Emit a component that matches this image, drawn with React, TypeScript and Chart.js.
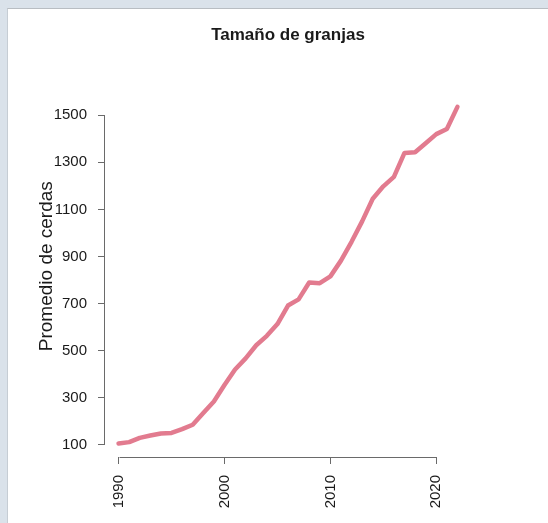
import { useEffect, useRef } from "react";
import { Chart, registerables } from "chart.js";

Chart.register(...registerables);

const years = [
  1990, 1991, 1992, 1993, 1994, 1995, 1996, 1997, 1998, 1999, 2000, 2001, 2002,
  2003, 2004, 2005, 2006, 2007, 2008, 2009, 2010, 2011, 2012, 2013, 2014, 2015,
  2016, 2017, 2018, 2019, 2020, 2021, 2022,
];
const sows = [
  104, 110, 128, 138, 147, 149, 165, 184, 234, 283, 353, 419, 466, 522, 562,
  612, 691, 717, 789, 786, 815, 882, 962, 1049, 1145, 1198, 1238, 1340, 1343,
  1381, 1420, 1442, 1536,
];
const xTicks = [1990, 2000, 2010, 2020];
const yTicks = [100, 300, 500, 700, 900, 1100, 1300, 1500];
const titleText = "Tamaño de granjas";
const yLabel = "Promedio de cerdas";

const FONT = "'Liberation Sans', Arial, Helvetica, sans-serif";
const AXIS = "#6a6a6a";
const TEXT = "#1a1a1a";
const LINE = "#e27b8f";

const pad = (arr: number[]) => {
  const mn = Math.min(...arr);
  const mx = Math.max(...arr);
  const p = (mx - mn) * 0.04;
  return [mn - p, mx + p];
};

const rAxisLines = {
  id: "rAxisLines",
  afterDraw(chart: any) {
    const { ctx, scales } = chart;
    const x = scales.x;
    const y = scales.y;
    ctx.save();
    ctx.strokeStyle = AXIS;
    ctx.lineWidth = 1;
    ctx.beginPath();
    const yy = Math.round(x.top) + 0.5;
    ctx.moveTo(Math.round(x.getPixelForValue(xTicks[0])) + 0.5, yy);
    ctx.lineTo(Math.round(x.getPixelForValue(xTicks[xTicks.length - 1])) + 0.5, yy);
    const xx = Math.round(y.right) - 0.5;
    ctx.moveTo(xx, Math.round(y.getPixelForValue(yTicks[0])) + 0.5);
    ctx.lineTo(xx, Math.round(y.getPixelForValue(yTicks[yTicks.length - 1])) + 0.5);
    ctx.stroke();
    // y-axis label (R-style ylab)
    ctx.fillStyle = TEXT;
    ctx.font = `19px ${FONT}`;
    ctx.translate(52, (y.top + y.bottom) / 2 - 9);
    ctx.rotate(-Math.PI / 2);
    ctx.textAlign = "center";
    ctx.textBaseline = "alphabetic";
    ctx.fillText(yLabel, 0, 0);
    ctx.restore();
  },
};

export default function App() {
  const ref = useRef<HTMLCanvasElement | null>(null);

  useEffect(() => {
    if (!ref.current) return;
    const [xmin, xmax] = pad(years);
    const [ymin, ymax] = pad(sows);
    const chart = new Chart(ref.current, {
      type: "line",
      data: {
        datasets: [
          {
            data: years.map((yr, i) => ({ x: yr, y: sows[i] })),
            borderColor: LINE,
            borderWidth: 4.5,
            pointRadius: 0,
            tension: 0,
            borderCapStyle: "round",
            borderJoinStyle: "round",
            fill: false,
          },
        ],
      },
      options: {
        responsive: false,
        animation: false,
        events: [],
        layout: { padding: { left: 0, right: 77, top: 0, bottom: 0 } },
        plugins: {
          legend: { display: false },
          tooltip: { enabled: false },
          title: {
            display: true,
            text: titleText,
            fullSize: false,
            color: TEXT,
            font: { family: FONT, size: 17, weight: "bold", lineHeight: 1.2 },
            padding: { top: 25, bottom: 48 },
          },
        },
        scales: {
          x: {
            type: "linear",
            min: xmin,
            max: xmax,
            afterFit: (s: any) => {
              s.height = 66;
            },
            afterBuildTicks: (s: any) => {
              s.ticks = xTicks.map((v) => ({ value: v }));
            },
            border: { display: false },
            grid: {
              display: true,
              drawOnChartArea: false,
              drawTicks: true,
              tickLength: 7,
              color: AXIS,
              lineWidth: 1,
            },
            ticks: {
              color: TEXT,
              font: { family: FONT, size: 15 },
              minRotation: 90,
              maxRotation: 90,
              padding: 11,
              autoSkip: false,
              callback: (v: any) => String(v),
            },
          },
          y: {
            type: "linear",
            min: ymin,
            max: ymax,
            afterFit: (s: any) => {
              s.width = 105;
            },
            afterBuildTicks: (s: any) => {
              s.ticks = yTicks.map((v) => ({ value: v }));
            },
            border: { display: false },
            grid: {
              display: true,
              drawOnChartArea: false,
              drawTicks: true,
              tickLength: 7,
              color: AXIS,
              lineWidth: 1,
            },
            ticks: {
              color: TEXT,
              font: { family: FONT, size: 15 },
              padding: 11,
              autoSkip: false,
              callback: (v: any) => String(v),
            },
          },
        },
      },
      plugins: [rAxisLines],
    });
    return () => chart.destroy();
  }, []);

  return (
    <div
      style={{
        position: "fixed",
        left: 0,
        top: 0,
        width: 548,
        height: 523,
        background: "#dae2ea",
        overflow: "hidden",
      }}
    >
      <div
        style={{
          position: "absolute",
          left: 7,
          top: 8,
          width: 541,
          height: 515,
          background: "#ffffff",
          borderTop: "1px solid #b8bdc2",
          borderLeft: "1px solid #c6cdd4",
          boxSizing: "border-box",
        }}
      />
      <canvas
        ref={ref}
        width={548}
        height={523}
        style={{ position: "absolute", left: 0, top: 0, width: 548, height: 523 }}
      />
    </div>
  );
}
